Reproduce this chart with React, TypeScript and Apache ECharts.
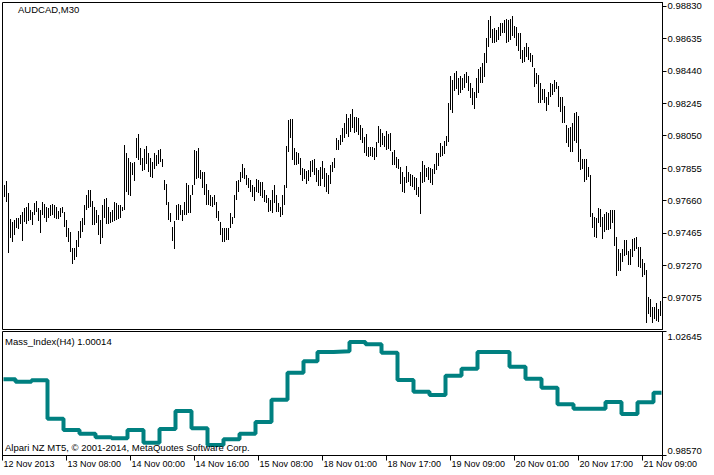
import React, { useEffect, useRef } from 'react';
import * as echarts from 'echarts';

const symbolTitle = 'AUDCAD,M30';
const indicatorTitle = 'Mass_Index(H4) 1.00014';
const copyrightText = 'Alpari NZ MT5, \u00A9 2001-2014, MetaQuotes Software Corp.';

// 329 M30 bars + one empty slot on the right edge
const slotCount = 330;
const labelStep = 32;
const timeLabels = [
  '12 Nov 2013', '13 Nov 08:00', '14 Nov 00:00', '14 Nov 16:00', '15 Nov 08:00',
  '18 Nov 01:00', '18 Nov 17:00', '19 Nov 09:00', '20 Nov 01:00', '20 Nov 17:00', '21 Nov 09:00',
];

const priceTicks = [0.97075, 0.9727, 0.97465, 0.9766, 0.97855, 0.9805, 0.98245, 0.9844, 0.98635, 0.9883];
const priceMin = 0.96884;
const priceMax = 0.98851;
const massMin = 0.9857;
const massMax = 1.02645;

const barHigh = [
  0.97753, 0.97777, 0.97703, 0.97548, 0.97532, 0.97542, 0.97556, 0.97556, 0.97572, 0.97589,
  0.97613, 0.97622, 0.97643, 0.97602, 0.97589, 0.97643, 0.97657, 0.97613, 0.97602, 0.97649,
  0.9764, 0.97622, 0.97613, 0.97633, 0.97637, 0.97633, 0.97622, 0.97596, 0.97613, 0.97622,
  0.97589, 0.97542, 0.97492, 0.97472, 0.97376, 0.97372, 0.97422, 0.97476, 0.97536, 0.97553,
  0.97633, 0.97693, 0.97723, 0.97723, 0.97657, 0.97622, 0.97602, 0.97572, 0.97542, 0.97633,
  0.97669, 0.97673, 0.97622, 0.97592, 0.97602, 0.97649, 0.97643, 0.97633, 0.97633, 0.97622,
  0.97994, 0.97944, 0.97914, 0.97889, 0.97883, 0.97889, 0.98034, 0.98058, 0.97974, 0.97914,
  0.97969, 0.97989, 0.97944, 0.97914, 0.97889, 0.97944, 0.97933, 0.97963, 0.97969, 0.97909,
  0.97783, 0.97757, 0.97652, 0.97583, 0.97502, 0.97536, 0.97633, 0.97637, 0.97633, 0.97602,
  0.97652, 0.97763, 0.97753, 0.97693, 0.97753, 0.97963, 0.97957, 0.97974, 0.97843, 0.97833,
  0.97833, 0.97757, 0.97723, 0.97693, 0.97682, 0.97693, 0.97652, 0.97596, 0.97532, 0.97492,
  0.97496, 0.97492, 0.97496, 0.97583, 0.97562, 0.97693, 0.97777, 0.97783, 0.97833, 0.97877,
  0.97857, 0.97813, 0.97793, 0.97783, 0.97753, 0.97743, 0.97789, 0.97783, 0.97773, 0.97769,
  0.97723, 0.97693, 0.97673, 0.97663, 0.97723, 0.97753, 0.97693, 0.97643, 0.97622, 0.97693,
  0.97753, 0.97989, 0.98144, 0.9815, 0.9815, 0.97974, 0.97953, 0.97944, 0.97914, 0.97857,
  0.97849, 0.97837, 0.97843, 0.97897, 0.97903, 0.97909, 0.97853, 0.97843, 0.97863, 0.97897,
  0.97853, 0.97823, 0.97813, 0.97873, 0.97893, 0.97917, 0.98034, 0.98024, 0.98054, 0.98094,
  0.98124, 0.9818, 0.98154, 0.9818, 0.98208, 0.9816, 0.9816, 0.98154, 0.98114, 0.98094,
  0.98043, 0.9806, 0.97983, 0.9798, 0.97983, 0.97974, 0.98013, 0.98108, 0.98088, 0.98064,
  0.98048, 0.9808, 0.9806, 0.98068, 0.97953, 0.97963, 0.97923, 0.97907, 0.97863, 0.97833,
  0.97803, 0.97867, 0.97833, 0.97819, 0.97813, 0.97803, 0.97793, 0.97743, 0.97833, 0.97899,
  0.97873, 0.97853, 0.97859, 0.97853, 0.97847, 0.97879, 0.97944, 0.97944, 0.98004, 0.97987,
  0.98019, 0.98048, 0.98248, 0.98409, 0.98385, 0.98425, 0.98441, 0.98395, 0.98409, 0.98395,
  0.98421, 0.98435, 0.98409, 0.98368, 0.98335, 0.98314, 0.98395, 0.98449, 0.98461, 0.98489,
  0.98545, 0.98636, 0.98746, 0.9877, 0.9869, 0.98696, 0.98685, 0.98705, 0.98726, 0.98729,
  0.98746, 0.9875, 0.98746, 0.98754, 0.9877, 0.9871, 0.98702, 0.98669, 0.98669, 0.98565,
  0.98585, 0.98609, 0.98585, 0.98545, 0.98535, 0.98455, 0.98425, 0.98415, 0.98365, 0.98329,
  0.98329, 0.98281, 0.98314, 0.98365, 0.98361, 0.98385, 0.98374, 0.98349, 0.98281, 0.98281,
  0.98228, 0.98114, 0.98094, 0.981, 0.98128, 0.98188, 0.98194, 0.98168, 0.97968, 0.97907,
  0.97907, 0.97907, 0.97863, 0.97813, 0.97586, 0.97562, 0.97553, 0.97613, 0.97607, 0.97562,
  0.97578, 0.97592, 0.97586, 0.97602, 0.97602, 0.97602, 0.97438, 0.97366, 0.97345, 0.97366,
  0.97422, 0.97422, 0.97357, 0.97366, 0.97426, 0.97432, 0.97442, 0.97382, 0.97378, 0.97306,
  0.97282, 0.97241, 0.97081, 0.97065, 0.97021, 0.97021, 0.97041, 0.97005, 0.97057,
];

const barLow = [
  0.97682, 0.97652, 0.97342, 0.97436, 0.97408, 0.97452, 0.97492, 0.97488, 0.97516, 0.97416,
  0.97532, 0.97516, 0.97536, 0.97542, 0.97512, 0.97572, 0.97589, 0.97536, 0.97462, 0.97572,
  0.97556, 0.97528, 0.97553, 0.97568, 0.97572, 0.97553, 0.97548, 0.97546, 0.97562, 0.97583,
  0.97502, 0.97442, 0.97412, 0.97351, 0.97276, 0.97302, 0.97321, 0.97382, 0.97432, 0.97468,
  0.97512, 0.97602, 0.97616, 0.97622, 0.97512, 0.97512, 0.97522, 0.97452, 0.97396, 0.97432,
  0.97553, 0.97516, 0.97516, 0.97522, 0.97532, 0.97536, 0.97542, 0.97548, 0.97553, 0.97596,
  0.97602, 0.97713, 0.97693, 0.97689, 0.97813, 0.97777, 0.97914, 0.97903, 0.97873, 0.97837,
  0.97843, 0.97877, 0.97833, 0.97803, 0.97793, 0.97849, 0.97869, 0.97877, 0.97893, 0.97863,
  0.97723, 0.97633, 0.97542, 0.97532, 0.97416, 0.97368, 0.97542, 0.97542, 0.97572, 0.97536,
  0.97572, 0.97572, 0.97583, 0.97583, 0.97693, 0.97753, 0.97789, 0.97793, 0.97789, 0.97733,
  0.97693, 0.97633, 0.97633, 0.97628, 0.97622, 0.97633, 0.97553, 0.97536, 0.97452, 0.97408,
  0.97412, 0.97422, 0.97422, 0.97496, 0.97516, 0.97553, 0.97663, 0.97713, 0.97769, 0.97793,
  0.97789, 0.97753, 0.97733, 0.97709, 0.97682, 0.97657, 0.97709, 0.97703, 0.97689, 0.97673,
  0.97652, 0.97643, 0.97592, 0.97596, 0.97583, 0.97643, 0.97592, 0.97589, 0.97562, 0.97572,
  0.97633, 0.97737, 0.97953, 0.98034, 0.97903, 0.97873, 0.97873, 0.97877, 0.97813, 0.97777,
  0.97789, 0.97757, 0.97777, 0.97803, 0.97833, 0.97813, 0.97773, 0.97749, 0.97749, 0.97789,
  0.97743, 0.97709, 0.97697, 0.97757, 0.97833, 0.97857, 0.97963, 0.97963, 0.97994, 0.98013,
  0.98034, 0.9806, 0.98043, 0.98074, 0.98094, 0.98064, 0.98074, 0.98054, 0.98024, 0.98004,
  0.97944, 0.97927, 0.97923, 0.97927, 0.97923, 0.97903, 0.97923, 0.98004, 0.9798, 0.97994,
  0.9798, 0.97963, 0.97968, 0.97959, 0.97873, 0.97873, 0.97853, 0.97847, 0.97759, 0.97713,
  0.97706, 0.97763, 0.97773, 0.97747, 0.97743, 0.97723, 0.97693, 0.97682, 0.97578, 0.97767,
  0.97773, 0.97803, 0.97783, 0.97763, 0.97753, 0.97819, 0.97843, 0.97867, 0.97923, 0.97927,
  0.97939, 0.97987, 0.98013, 0.98204, 0.98188, 0.9832, 0.98329, 0.98294, 0.98308, 0.98325,
  0.98335, 0.98368, 0.9832, 0.98275, 0.98234, 0.98208, 0.98275, 0.98305, 0.98368, 0.98365,
  0.98404, 0.98485, 0.98585, 0.98636, 0.98606, 0.98606, 0.98615, 0.98625, 0.98649, 0.98666,
  0.98669, 0.98606, 0.98615, 0.98625, 0.98649, 0.98636, 0.98589, 0.98561, 0.98509, 0.98485,
  0.98495, 0.98525, 0.98505, 0.98495, 0.98461, 0.98341, 0.98361, 0.98248, 0.98248, 0.98264,
  0.98244, 0.982, 0.98234, 0.98281, 0.98294, 0.98314, 0.98329, 0.98224, 0.98194, 0.98124,
  0.98128, 0.98007, 0.97983, 0.97953, 0.97953, 0.98019, 0.98004, 0.97893, 0.97843, 0.97847,
  0.97773, 0.97783, 0.97803, 0.97562, 0.97492, 0.97438, 0.97432, 0.97522, 0.97502, 0.97426,
  0.97472, 0.97482, 0.97482, 0.97486, 0.97522, 0.97386, 0.97205, 0.97237, 0.97237, 0.97291,
  0.97326, 0.97332, 0.97271, 0.97271, 0.97321, 0.97357, 0.97366, 0.97258, 0.97252, 0.97201,
  0.97211, 0.96924, 0.96977, 0.9696, 0.96921, 0.96945, 0.96936, 0.9693, 0.96965,
];

// first M30 bar index of each H4 Mass Index value
const massStart = [
  0, 6, 14, 22, 30, 38, 46, 54, 62, 70, 78, 86, 94, 102, 110, 118, 126, 134, 142, 150,
  157, 165, 173, 181, 189, 197, 205, 213, 221, 229, 237, 245, 253, 261, 269, 277, 285, 293, 301, 309,
  317, 325,
];
const massValue = [
  1.01074, 1.00995, 1.01041, 0.99779, 0.99408, 0.99286, 0.99168, 0.99135, 0.99408, 0.98991,
  0.99441, 1.00032, 0.99464, 0.98915, 0.99102, 0.99286, 0.99671, 1.00404, 1.01291, 1.01666,
  1.01971, 1.01994, 1.023, 1.02224, 1.01948, 1.01051, 1.00667, 1.00558, 1.01192, 1.01422,
  1.01971, 1.01968, 1.01488, 1.01094, 1.00798, 1.00253, 1.00108, 1.00105, 1.00328, 0.99934,
  1.00318, 1.00634,
];

const FONT = '"Liberation Sans", Arial, sans-serif';

export default function App() {
  const ref = useRef<HTMLDivElement | null>(null);

  useEffect(() => {
    document.body.style.margin = '0';
    if (!ref.current) return;
    const chart = echarts.init(ref.current, undefined, { renderer: 'svg' });

    const slots = Array.from({ length: slotCount }, (_, i) => String(i));
    const isLabelSlot = (idx: number) => idx % labelStep === 0 && idx / labelStep < timeLabels.length;

    const bars = barHigh.map((h, i) => [i, h, barLow[i]]);
    const massLine: number[][] = massStart.map((s, k) => [s, massValue[k]]);
    massLine.push([slotCount - 1, massValue[massValue.length - 1]]);

    const axisLineStyle = { show: true, lineStyle: { color: '#000', width: 1 } };

    const option: any = {
      animation: false,
      backgroundColor: '#ffffff',
      grid: [
        { left: 2.5, top: 2.5, width: 660, height: 327, show: true, borderColor: '#000', borderWidth: 1, backgroundColor: 'transparent' },
        { left: 2.5, top: 331.5, width: 660, height: 124, show: true, borderColor: '#000', borderWidth: 1, backgroundColor: 'transparent' },
      ],
      xAxis: [
        { type: 'category', gridIndex: 0, data: slots, boundaryGap: true, show: false },
        {
          type: 'category',
          gridIndex: 1,
          data: slots,
          boundaryGap: true,
          axisLine: axisLineStyle,
          axisTick: { show: true, length: 5, interval: (idx: number) => isLabelSlot(idx), lineStyle: { color: '#000' } },
          axisLabel: {
            interval: (idx: number) => isLabelSlot(idx),
            formatter: (_v: string, idx: number) => (isLabelSlot(idx) ? timeLabels[idx / labelStep] : ''),
            align: 'left',
            margin: 4,
            fontSize: 9,
            fontFamily: FONT,
            color: '#000',
          },
          splitLine: { show: false },
        },
      ],
      yAxis: [
        {
          type: 'value',
          gridIndex: 0,
          position: 'right',
          min: priceMin,
          max: priceMax,
          axisLine: axisLineStyle,
          axisTick: { show: true, length: 4, customValues: priceTicks, lineStyle: { color: '#000' } },
          axisLabel: {
            customValues: priceTicks,
            formatter: (v: number) => v.toFixed(5),
            margin: 5,
            fontSize: 9.5,
            fontFamily: FONT,
            color: '#000',
          },
          splitLine: { show: false },
        },
        {
          type: 'value',
          gridIndex: 1,
          position: 'right',
          min: massMin,
          max: massMax,
          axisLine: axisLineStyle,
          axisTick: { show: true, length: 4, customValues: [massMax], lineStyle: { color: '#000' } },
          axisLabel: {
            customValues: [massMax],
            formatter: (v: number) => v.toFixed(5),
            verticalAlign: 'top',
            margin: 5,
            fontSize: 9.5,
            fontFamily: FONT,
            color: '#000',
          },
          splitLine: { show: false },
        },
        {
          type: 'value',
          gridIndex: 1,
          position: 'right',
          min: massMin,
          max: massMax,
          axisLine: axisLineStyle,
          axisTick: { show: true, length: 4, customValues: [massMin], lineStyle: { color: '#000' } },
          axisLabel: {
            customValues: [massMin],
            formatter: (v: number) => v.toFixed(5),
            verticalAlign: 'bottom',
            margin: 5,
            fontSize: 9.5,
            fontFamily: FONT,
            color: '#000',
          },
          splitLine: { show: false },
        },
      ],
      graphic: [
        { type: 'text', x: 18, y: 9, z: 100, style: { text: symbolTitle, fill: '#000', font: `9.5px ${FONT}`, verticalAlign: 'middle' } },
        { type: 'text', x: 5, y: 341, z: 100, style: { text: indicatorTitle, fill: '#000', font: `9.5px ${FONT}`, verticalAlign: 'middle' } },
        { type: 'text', x: 5, y: 447, z: 100, style: { text: copyrightText, fill: '#000', font: `9.5px ${FONT}`, verticalAlign: 'middle' } },
      ],
      series: [
        {
          type: 'custom',
          name: 'AUDCAD',
          xAxisIndex: 0,
          yAxisIndex: 0,
          silent: true,
          clip: true,
          encode: { x: 0, y: [1, 2] },
          data: bars,
          renderItem: (_params: any, api: any) => {
            const idx = api.value(0);
            const pHigh = api.coord([idx, api.value(1)]);
            const pLow = api.coord([idx, api.value(2)]);
            const x = Math.floor(pHigh[0]) + 1;
            const yTop = Math.round(pHigh[1]);
            const yBot = Math.round(pLow[1]);
            return {
              type: 'rect',
              shape: { x, y: yTop, width: 1, height: Math.max(1, yBot - yTop) },
              style: { fill: '#000' },
            };
          },
        },
        {
          type: 'line',
          name: 'Mass_Index(H4)',
          xAxisIndex: 1,
          yAxisIndex: 1,
          step: 'end',
          symbol: 'none',
          showSymbol: false,
          silent: true,
          clip: true,
          data: massLine,
          lineStyle: { color: '#008080', width: 4 },
        },
      ],
    };

    chart.setOption(option);
    return () => chart.dispose();
  }, []);

  return <div ref={ref} style={{ width: 714, height: 475 }} />;
}
